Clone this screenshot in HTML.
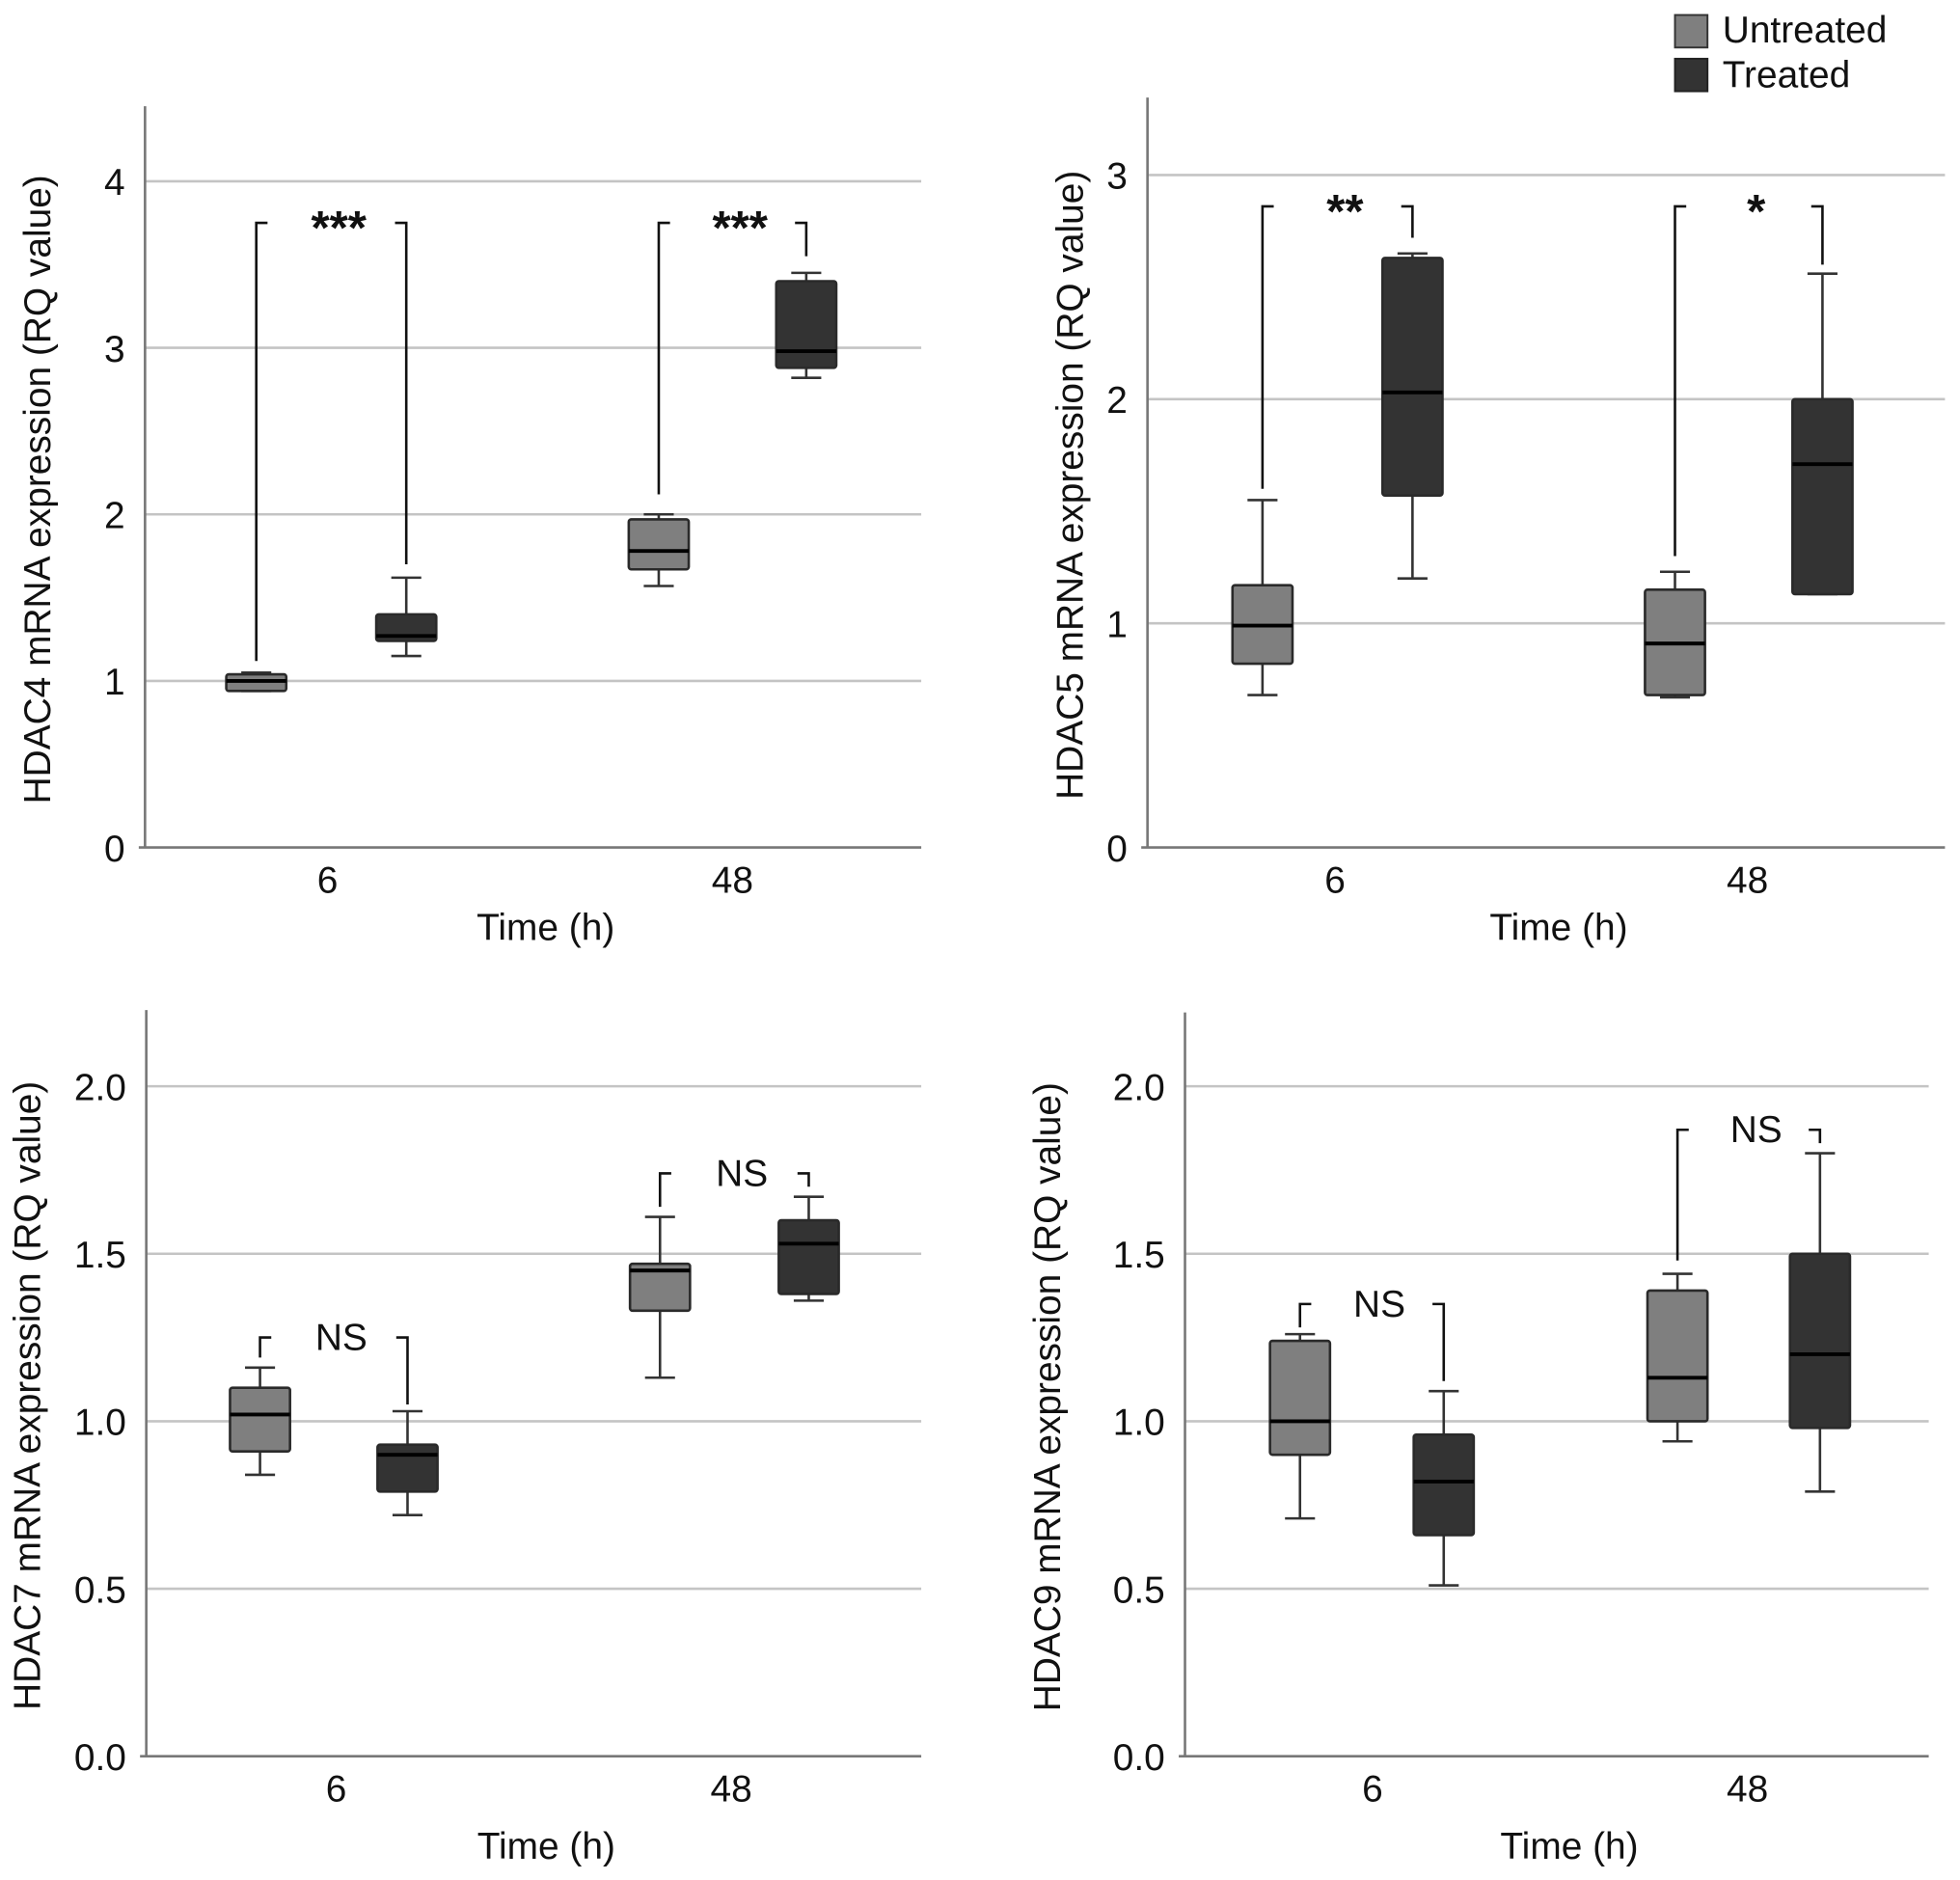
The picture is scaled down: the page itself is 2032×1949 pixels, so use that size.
<!DOCTYPE html>
<html><head><meta charset="utf-8">
<style>
html,body{margin:0;padding:0;background:#fff;}
svg{display:block;}
text{font-family:"Liberation Sans",Arial,sans-serif;fill:#111;}
</style></head>
<body>
<svg id="fig" width="2032" height="1949" viewBox="0 0 1568 1504" xmlns="http://www.w3.org/2000/svg">
<g>
<rect x="1340" y="12" width="26" height="26" fill="#7f7f7f" stroke="#333" stroke-width="1.5"/>
<text x="1378" y="34" font-size="30">Untreated</text>
<rect x="1340" y="47" width="26" height="26" fill="#333" stroke="#222" stroke-width="1.5"/>
<text x="1378" y="70" font-size="30">Treated</text>
</g>
</svg>
<script>
const categories = ["6", "48"];
const groups = ["Untreated", "Treated"];
// box stats: [low, q1, median, q3, high] for U6, T6, U48, T48
const hdac4Values = [[0.94,0.94,1.0,1.04,1.05],[1.15,1.24,1.27,1.40,1.62],[1.57,1.67,1.78,1.97,2.0],[2.82,2.88,2.98,3.40,3.45]];
const hdac5Values = [[0.68,0.82,0.99,1.17,1.55],[1.20,1.57,2.03,2.63,2.65],[0.67,0.68,0.91,1.15,1.23],[1.13,1.13,1.71,2.0,2.56]];
const hdac7Values = [[0.84,0.91,1.02,1.10,1.16],[0.72,0.79,0.90,0.93,1.03],[1.13,1.33,1.45,1.47,1.61],[1.36,1.38,1.53,1.60,1.67]];
const hdac9Values = [[0.71,0.90,1.0,1.24,1.26],[0.51,0.66,0.82,0.96,1.09],[0.94,1.0,1.13,1.39,1.44],[0.79,0.98,1.20,1.50,1.80]];
const hdac4Ticks = ["0","1","2","3","4"];
const hdac5Ticks = ["0","1","2","3"];
const hdac7Ticks = ["0.0","0.5","1.0","1.5","2.0"];
const hdac9Ticks = ["0.0","0.5","1.0","1.5","2.0"];
// brackets: [top, leftBottom, rightBottom, label]
const hdac4Sig = [[3.75,1.12,1.70,"***"],[3.75,2.12,3.55,"***"]];
const hdac5Sig = [[2.86,1.60,2.72,"**"],[2.86,1.30,2.60,"*"]];
const hdac7Sig = [[1.25,1.19,1.05,"NS"],[1.74,1.64,1.70,"NS"]];
const hdac9Sig = [[1.35,1.28,1.12,"NS"],[1.87,1.48,1.83,"NS"]];

const panels = [
 {name:"hdac4", title:"HDAC4 mRNA expression (RQ value)", vals:hdac4Values, ticks:hdac4Ticks, sig:hdac4Sig, step:1, x0:116, x1:737, top:85, y0:678, ymax:4, yTop:145, cat:[262,586], box:[205,325,527,645], titleX:40, timeY:752},
 {name:"hdac5", title:"HDAC5 mRNA expression (RQ value)", vals:hdac5Values, ticks:hdac5Ticks, sig:hdac5Sig, step:1, x0:918, x1:1556, top:78, y0:678, ymax:3, yTop:140, cat:[1068,1398], box:[1010,1130,1340,1458], titleX:866, timeY:752},
 {name:"hdac7", title:"HDAC7 mRNA expression (RQ value)", vals:hdac7Values, ticks:hdac7Ticks, sig:hdac7Sig, step:0.5, x0:117, x1:737, top:808, y0:1405, ymax:2, yTop:869, cat:[269,585], box:[208,326,528,647], titleX:32, timeY:1487},
 {name:"hdac9", title:"HDAC9 mRNA expression (RQ value)", vals:hdac9Values, ticks:hdac9Ticks, sig:hdac9Sig, step:0.5, x0:948, x1:1543, top:810, y0:1405, ymax:2, yTop:869, cat:[1098,1398], box:[1040,1155,1342,1456], titleX:848, timeY:1487}
];
const NS = "http://www.w3.org/2000/svg";
const svg = document.getElementById("fig");
function mk(tag, attrs, parent){const e=document.createElementNS(NS,tag);for(const k in attrs)e.setAttribute(k,attrs[k]);parent.appendChild(e);return e;}

panels.forEach(p=>{
  const g = mk("g",{},svg);
  
  
  const yScale = v => p.y0 - (p.y0 - p.yTop) * v / p.ymax;
  p.ticks.forEach((t,i)=>{
    const v = i*p.step, y = yScale(v);
    if (v>0){
      const gl = mk("line",{x1:p.x0,x2:p.x1,y1:y,y2:y,stroke:"#c4c4c4","stroke-width":2},g);
      
      
    }
    const tl = mk("text",{x:p.x0-16,y:y+11,"font-size":30,"text-anchor":"end"},g);
    tl.textContent = t;
    
    
  });
  const ya = mk("line",{x1:p.x0,x2:p.x0,y1:p.top,y2:p.y0,stroke:"#777","stroke-width":2},g);
  
  
  const xa = mk("line",{x1:p.x0-5,x2:p.x1,y1:p.y0,y2:p.y0,stroke:"#777","stroke-width":2},g);
  
  
  categories.forEach((c,i)=>{
    const t = mk("text",{x:p.cat[i],y:p.y0+36,"font-size":30,"text-anchor":"middle"},g);
    t.textContent = c;
    
    
  });
  const xt = mk("text",{x:(p.x0+p.x1)/2+10,y:p.timeY,"font-size":30,"text-anchor":"middle"},g);
  xt.textContent = "Time (h)";
  
  
  const cy = (p.top+p.y0)/2 + 10;
  const yt = mk("text",{x:p.titleX,y:cy,"font-size":30,"text-anchor":"middle",transform:`rotate(-90 ${p.titleX} ${cy})`},g);
  yt.textContent = p.title;
  
  
  p.vals.forEach((s,i)=>{
    const cx = p.box[i], w=48, cap=24;
    const fill = i%2===0 ? "#7f7f7f" : "#333";
    const bg = mk("g",{},g);
    
    
    const col="#333";
    mk("line",{x1:cx,x2:cx,y1:yScale(s[0]),y2:yScale(s[1]),stroke:col,"stroke-width":2},bg);
    mk("line",{x1:cx,x2:cx,y1:yScale(s[3]),y2:yScale(s[4]),stroke:col,"stroke-width":2},bg);
    mk("line",{x1:cx-cap/2,x2:cx+cap/2,y1:yScale(s[0]),y2:yScale(s[0]),stroke:col,"stroke-width":2},bg);
    mk("line",{x1:cx-cap/2,x2:cx+cap/2,y1:yScale(s[4]),y2:yScale(s[4]),stroke:col,"stroke-width":2},bg);
    mk("rect",{x:cx-w/2,y:yScale(s[3]),width:w,height:Math.max(2,yScale(s[1])-yScale(s[3])),fill:fill,stroke:"#2a2a2a","stroke-width":2,rx:2},bg);
    mk("line",{x1:cx-w/2,x2:cx+w/2,y1:yScale(s[2]),y2:yScale(s[2]),stroke:"#000","stroke-width":3},bg);
  });
  p.sig.forEach((b,i)=>{
    const lx = p.box[i*2], rx = p.box[i*2+1], ty = yScale(b[0]);
    const sg = mk("g",{},g);
    
    
    mk("path",{d:`M${lx},${yScale(b[1])} L${lx},${ty} L${lx+9},${ty}`,fill:"none",stroke:"#111","stroke-width":2},sg);
    mk("path",{d:`M${rx},${yScale(b[2])} L${rx},${ty} L${rx-9},${ty}`,fill:"none",stroke:"#111","stroke-width":2},sg);
    const st = b[3].startsWith("*");
    const t = mk("text",{x:(lx+rx)/2+6,y:st?ty+17:ty+10,"font-size":st?38:30,"font-weight":st?"bold":"normal","text-anchor":"middle"},sg);
    t.textContent = b[3];
    
    
  });
});
</script>
</body></html>
